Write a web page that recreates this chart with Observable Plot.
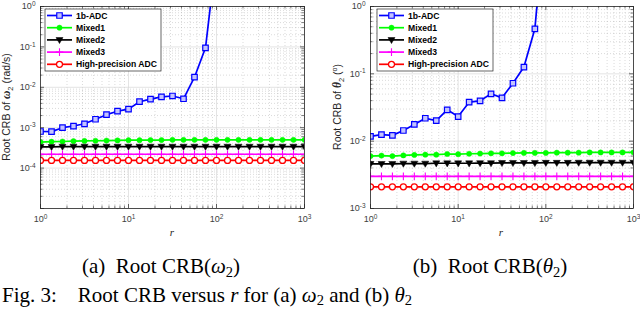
<!DOCTYPE html>
<html><head><meta charset="utf-8">
<script src="https://cdn.jsdelivr.net/npm/d3@7"></script>
<script src="https://cdn.jsdelivr.net/npm/@observablehq/plot@0.6"></script>
<style>
body{margin:0;background:#fff;}
#wrap{position:relative;width:640px;height:309px;overflow:hidden;background:#fff;}
#wrap > svg{position:absolute;top:0;}
</style></head><body><div id="wrap"></div>
<script>
// ---- data ----
const seriesNames = ["1b-ADC", "Mixed1", "Mixed2", "Mixed3", "High-precision ADC"];
const rValues = [1, 1.334, 1.778, 2.371, 3.162, 4.217, 5.623, 7.499, 10, 13.34, 17.78, 23.71, 31.62, 42.17, 56.23, 74.99, 100, 133.4, 177.8, 237.1, 316.2, 421.7, 562.3, 749.9, 1000];
const xTickValues = [1, 10, 100, 1000];
const yGridOmega = [1e-5, 1e-4, 1e-3, 1e-2, 1e-1, 1];
const yLabelsOmega = [1e-4, 1e-3, 1e-2, 1e-1, 1];
const yGridTheta = [1e-3, 1e-2, 1e-1, 1];
const yLabelsTheta = [1e-3, 1e-2, 1e-1, 1];

// Root CRB of omega_2 (rad/s)
const omega1b = [8.05e-4, 8.0e-4, 1.0e-3, 1.1e-3, 1.25e-3, 1.62e-3, 2.1e-3, 2.56e-3, 2.88e-3, 4.4e-3, 5.1e-3, 5.8e-3, 6.1e-3, 5.2e-3, 1.78e-2, 9.5e-2, 20];
const omegaMixed1 = [4.4e-4, 4.5e-4, 4.55e-4, 4.65e-4, 4.7e-4, 4.75e-4, 4.8e-4, 4.85e-4, 4.9e-4, 4.9e-4, 4.95e-4, 4.95e-4, 5.0e-4, 5.0e-4, 5.0e-4, 5.0e-4, 5.0e-4, 5.0e-4, 5.0e-4, 5.0e-4, 5.0e-4, 5.0e-4, 5.0e-4, 5.0e-4, 5.0e-4];
const omegaMixed2 = [3.35e-4, 3.35e-4, 3.4e-4, 3.4e-4, 3.4e-4, 3.4e-4, 3.4e-4, 3.4e-4, 3.4e-4, 3.4e-4, 3.4e-4, 3.4e-4, 3.4e-4, 3.4e-4, 3.4e-4, 3.4e-4, 3.4e-4, 3.4e-4, 3.4e-4, 3.4e-4, 3.4e-4, 3.4e-4, 3.4e-4, 3.4e-4, 3.4e-4];
const omegaMixed3 = [2.2e-4, 2.2e-4, 2.2e-4, 2.2e-4, 2.2e-4, 2.2e-4, 2.2e-4, 2.2e-4, 2.2e-4, 2.2e-4, 2.2e-4, 2.2e-4, 2.2e-4, 2.2e-4, 2.2e-4, 2.2e-4, 2.2e-4, 2.2e-4, 2.2e-4, 2.2e-4, 2.2e-4, 2.2e-4, 2.2e-4, 2.2e-4, 2.2e-4];
const omegaHP = [1.55e-4, 1.55e-4, 1.55e-4, 1.55e-4, 1.55e-4, 1.55e-4, 1.55e-4, 1.55e-4, 1.55e-4, 1.55e-4, 1.55e-4, 1.55e-4, 1.55e-4, 1.55e-4, 1.55e-4, 1.55e-4, 1.55e-4, 1.55e-4, 1.55e-4, 1.55e-4, 1.55e-4, 1.55e-4, 1.55e-4, 1.55e-4, 1.55e-4];

// Root CRB of theta_2 (deg)
const theta1b = [0.0118, 0.0125, 0.0122, 0.0144, 0.0177, 0.0219, 0.0202, 0.0292, 0.0232, 0.0379, 0.0397, 0.0505, 0.044, 0.0725, 0.126, 0.466, 30];
const thetaMixed1 = [6.0e-3, 6.1e-3, 6.0e-3, 6.15e-3, 6.25e-3, 6.3e-3, 6.3e-3, 6.45e-3, 6.4e-3, 6.5e-3, 6.55e-3, 6.6e-3, 6.6e-3, 6.65e-3, 6.7e-3, 6.7e-3, 6.7e-3, 6.75e-3, 6.75e-3, 6.75e-3, 6.8e-3, 6.8e-3, 6.8e-3, 6.8e-3, 6.8e-3];
const thetaMixed2 = [4.6e-3, 4.6e-3, 4.6e-3, 4.65e-3, 4.65e-3, 4.65e-3, 4.7e-3, 4.7e-3, 4.7e-3, 4.7e-3, 4.72e-3, 4.72e-3, 4.75e-3, 4.75e-3, 4.75e-3, 4.75e-3, 4.78e-3, 4.78e-3, 4.78e-3, 4.8e-3, 4.8e-3, 4.8e-3, 4.8e-3, 4.8e-3, 4.8e-3];
const thetaMixed3 = [3.0e-3, 3.0e-3, 3.0e-3, 3.0e-3, 3.0e-3, 3.0e-3, 3.0e-3, 3.0e-3, 3.0e-3, 3.0e-3, 3.0e-3, 3.0e-3, 3.0e-3, 3.0e-3, 3.0e-3, 3.0e-3, 3.0e-3, 3.0e-3, 3.0e-3, 3.0e-3, 3.0e-3, 3.0e-3, 3.0e-3, 3.0e-3, 3.0e-3];
const thetaHP = [2.1e-3, 2.1e-3, 2.1e-3, 2.1e-3, 2.1e-3, 2.1e-3, 2.1e-3, 2.1e-3, 2.1e-3, 2.1e-3, 2.1e-3, 2.1e-3, 2.1e-3, 2.1e-3, 2.1e-3, 2.1e-3, 2.1e-3, 2.1e-3, 2.1e-3, 2.1e-3, 2.1e-3, 2.1e-3, 2.1e-3, 2.1e-3, 2.1e-3];

// ---- styles ----
const triDown = {
  draw(ctx, size) {
    const a = Math.sqrt(size) * 0.6;
    ctx.moveTo(-a * 1.1, -a * 0.75);
    ctx.lineTo(a * 1.1, -a * 0.75);
    ctx.lineTo(0, a * 1.15);
    ctx.closePath();
  }
};
const styles = [
  {color: "#0000ff", symbol: "square", fill: "#c4c4ff", stroke: "#0000ff", r: 3.1, sw: 1.2},
  {color: "#00ff00", symbol: "circle", fill: "#00ff00", stroke: "#00ff00", r: 2.6, sw: 0.5},
  {color: "#000000", symbol: triDown, fill: "#000000", stroke: "#000000", r: 3.0, sw: 0.5},
  {color: "#ff00ff", symbol: "plus", fill: "none", stroke: "#ff00ff", r: 2.6, sw: 1.1},
  {color: "#ff0000", symbol: "circle", fill: "#ffffff", stroke: "#ff0000", r: 3.0, sw: 1.3}
];

function minorTicks(lo, hi) {
  const out = [];
  for (let e = lo; e < hi; e++) for (let m = 2; m <= 9; m++) out.push(m * Math.pow(10, e));
  return out;
}

function panel({left, width, marginLeft, marginRight, arrays, yDomain, yGrid, yLabels}) {
  const H = 245, mt = 6, mb = 37;
  const ph = H - mt - mb;
  const marks = [];
  const minX = minorTicks(0, 3);
  const minY = minorTicks(Math.round(Math.log10(yDomain[0])), Math.round(Math.log10(yDomain[1])));
  marks.push(Plot.ruleX(minX, {stroke: "#9a9a9a", strokeOpacity: 0.6, strokeWidth: 0.6, strokeDasharray: "1,2"}));
  marks.push(Plot.ruleY(minY, {stroke: "#9a9a9a", strokeOpacity: 0.6, strokeWidth: 0.6, strokeDasharray: "1,2"}));
  marks.push(Plot.ruleX(xTickValues, {stroke: "#d9d9d9", strokeWidth: 0.7}));
  marks.push(Plot.ruleY(yGrid, {stroke: "#d9d9d9", strokeWidth: 0.7}));
  // inward ticks
  marks.push(Plot.ruleX(xTickValues, {stroke: "#262626", strokeWidth: 0.7, insetTop: ph - 4}));
  marks.push(Plot.ruleX(xTickValues, {stroke: "#262626", strokeWidth: 0.7, insetBottom: ph - 4}));
  marks.push(Plot.ruleX(minX, {stroke: "#262626", strokeWidth: 0.6, insetTop: ph - 2.5}));
  marks.push(Plot.ruleX(minX, {stroke: "#262626", strokeWidth: 0.6, insetBottom: ph - 2.5}));
  const pw = width - marginLeft - marginRight;
  marks.push(Plot.ruleY(yGrid, {stroke: "#262626", strokeWidth: 0.7, insetRight: pw - 4}));
  marks.push(Plot.ruleY(yGrid, {stroke: "#262626", strokeWidth: 0.7, insetLeft: pw - 4}));
  marks.push(Plot.ruleY(minY, {stroke: "#262626", strokeWidth: 0.6, insetRight: pw - 2.5}));
  marks.push(Plot.ruleY(minY, {stroke: "#262626", strokeWidth: 0.6, insetLeft: pw - 2.5}));

  arrays.forEach((vals, i) => {
    const st = styles[i];
    const data = vals.map((v, k) => ({r: rValues[k], v, s: seriesNames[i]}));
    marks.push(Plot.line(data, {x: "r", y: "v", stroke: st.color, strokeWidth: 1.7, clip: true}));
  });
  arrays.forEach((vals, i) => {
    const st = styles[i];
    const data = vals.map((v, k) => ({r: rValues[k], v, s: seriesNames[i]}));
    marks.push(Plot.dot(data, {x: "r", y: "v", symbol: st.symbol, r: st.r, fill: st.fill, stroke: st.stroke, strokeWidth: st.sw, clip: true}));
  });
  marks.push(Plot.frame({stroke: "#262626", strokeWidth: 0.8}));
  marks.push(Plot.axisX({ticks: xTickValues, tickSize: 0, tickPadding: 7, fontSize: 9, label: null,
    tickFormat: d => "10|" + Math.round(Math.log10(d))}));
  marks.push(Plot.axisY({ticks: yLabels, tickSize: 0, tickPadding: 5, fontSize: 9, label: null,
    tickFormat: d => "10|" + Math.round(Math.log10(d))}));

  const svg = Plot.plot({
    width, height: H, marginLeft, marginRight, marginTop: mt, marginBottom: mb,
    style: {fontFamily: "'Liberation Sans', Arial, sans-serif", color: "#404040", background: "transparent", overflow: "visible"},
    x: {type: "log", domain: [1, 1000]},
    y: {type: "log", domain: yDomain},
    marks
  });
  svg.style.left = left + "px";
  // superscript tick labels
  d3.select(svg).selectAll('g[aria-label$="tick label"] text').each(function() {
    const t = this.textContent;
    if (!t.includes("|")) return;
    const [base, ex] = t.split("|");
    const sel = d3.select(this);
    sel.text(null);
    sel.append("tspan").text(base);
    sel.append("tspan").attr("dy", "-0.5em").attr("font-size", "6.5px").text(ex);
  });
  return svg;
}

const wrap = document.getElementById("wrap");
wrap.appendChild(panel({left: 0, width: 320, marginLeft: 40, marginRight: 16,
  arrays: [omega1b, omegaMixed1, omegaMixed2, omegaMixed3, omegaHP], yDomain: [1e-5, 1], yGrid: yGridOmega, yLabels: yLabelsOmega}));
wrap.appendChild(panel({left: 320, width: 320, marginLeft: 50, marginRight: 7,
  arrays: [theta1b, thetaMixed1, thetaMixed2, thetaMixed3, thetaHP], yDomain: [1e-3, 1], yGrid: yGridTheta, yLabels: yLabelsTheta}));

// ---- overlay: labels, legends, captions ----
const ov = d3.select(wrap).append("svg").attr("width", 640).attr("height", 309).style("left", "0px");
const sans = "'Liberation Sans', Arial, sans-serif";
const serif = "'Liberation Serif', 'Times New Roman', serif";

function yLabel(x, y, sym, unitParts) {
  const t = ov.append("text").attr("transform", `translate(${x},${y}) rotate(-90)`)
    .attr("text-anchor", "middle").attr("font-family", sans).attr("font-size", 10.5).attr("fill", "#262626");
  t.append("tspan").text("Root CRB of ");
  t.append("tspan").attr("font-family", serif).attr("font-style", "italic").attr("font-weight", "bold").attr("font-size", 11.5).text(sym);
  t.append("tspan").attr("dy", 3).attr("font-size", 7.5).text("2");
  unitParts(t);
}
yLabel(10, 107, "ω", t => { t.append("tspan").attr("dy", -3).text(" (rad/s)"); });
yLabel(341, 107, "θ", t => {
  t.append("tspan").attr("dy", -3).text(" (");
  t.append("tspan").attr("dy", -4).attr("font-size", 7).text("o");
  t.append("tspan").attr("dy", 4).text(")");
});

// x labels
[[172, 236], [501, 236]].forEach(([x, y]) => {
  ov.append("text").attr("x", x).attr("y", y).attr("text-anchor", "middle").attr("font-family", serif)
    .attr("font-style", "italic").attr("font-size", 11).attr("fill", "#262626").text("r");
});

// legends
function legend(x0, y0) {
  const w = 116, h = 62;
  ov.append("rect").attr("x", x0).attr("y", y0).attr("width", w).attr("height", h)
    .attr("fill", "#fff").attr("stroke", "#262626").attr("stroke-width", 0.7);
  seriesNames.forEach((name, i) => {
    const st = styles[i];
    const y = y0 + 6.5 + i * 12.2;
    ov.append("line").attr("x1", x0 + 2).attr("x2", x0 + 27).attr("y1", y).attr("y2", y)
      .attr("stroke", st.color).attr("stroke-width", 1.7);
    const sym = typeof st.symbol === "string" ? {
      square: d3.symbolSquare, circle: d3.symbolCircle, plus: d3.symbolPlus
    }[st.symbol] : st.symbol;
    ov.append("path").attr("transform", `translate(${x0 + 14.5},${y})`)
      .attr("d", d3.symbol(sym, st.r * st.r * Math.PI)())
      .attr("fill", st.fill).attr("stroke", st.stroke).attr("stroke-width", st.sw);
    ov.append("text").attr("x", x0 + 31).attr("y", y).attr("dy", "0.35em").attr("font-family", sans)
      .attr("font-weight", "bold").attr("font-size", 8.6).attr("fill", "#000").text(name);
  });
}
legend(45, 9);
legend(377, 9);

// sub-captions
function caption(cx, y, letter, sym) {
  const t = ov.append("text").attr("x", cx).attr("y", y).attr("text-anchor", "middle")
    .attr("font-family", serif).attr("font-size", 21).attr("fill", "#000");
  t.append("tspan").text(`(${letter})\u2002Root CRB(`);
  t.append("tspan").attr("font-style", "italic").text(sym);
  t.append("tspan").attr("dy", 4).attr("font-size", 14.5).text("2");
  t.append("tspan").attr("dy", -4).text(")");
}
caption(161, 273, "a", "ω");
caption(490, 273, "b", "θ");

// figure caption
const fc = ov.append("text").attr("x", 2).attr("y", 302).attr("font-family", serif).attr("font-size", 21).attr("fill", "#000");
fc.append("tspan").text("Fig. 3:\u2003Root CRB versus ");
fc.append("tspan").attr("font-style", "italic").text("r");
fc.append("tspan").text(" for (a) ");
fc.append("tspan").attr("font-style", "italic").text("ω");
fc.append("tspan").attr("dy", 2.5).attr("font-size", 14.5).text("2");
fc.append("tspan").attr("dy", -2.5).text(" and (b) ");
fc.append("tspan").attr("font-style", "italic").text("θ");
fc.append("tspan").attr("dy", 2.5).attr("font-size", 14.5).text("2");
</script></body></html>
